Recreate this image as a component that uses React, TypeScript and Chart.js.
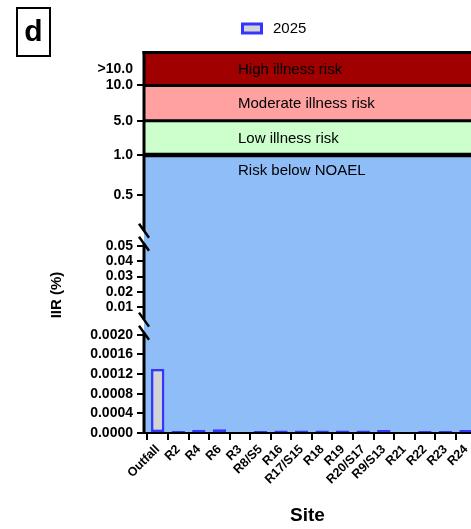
import { useEffect, useRef } from 'react';
import { Chart, registerables, LinearScale } from 'chart.js';

Chart.register(...registerables);

// Sampling sites along the x axis
const sites = ['Outfall', 'R2', 'R4', 'R6', 'R3', 'R8/S5', 'R16', 'R17/S15', 'R18', 'R19', 'R20/S17', 'R9/S13', 'R21', 'R22', 'R23', 'R24'];
// Illness infection risk (%) per site, 2025
const iir2025 = [0.0013, 0.00004, 0.00006, 0.000075, 0, 0.00004, 0.00005, 0.00005, 0.00005, 0.00005, 0.00005, 0.00006, 0, 0.00004, 0.00004, 0.00006];

const seriesLabel = '2025';

// y tick values and their labels (">10.0" sits in the middle of the top band)
const yTickValues = [0, 0.0004, 0.0008, 0.0012, 0.0016, 0.002, 0.01, 0.02, 0.03, 0.04, 0.05, 0.5, 1, 5, 10, 15];
const yTickLabels = ['0.0000', '0.0004', '0.0008', '0.0012', '0.0016', '0.0020', '0.01', '0.02', '0.03', '0.04', '0.05', '0.5', '1.0', '5.0', '10.0', '>10.0'];

// Risk categories painted behind the bars
const bandLabels = ['Risk below NOAEL', 'Low illness risk', 'Moderate illness risk', 'High illness risk'];
const bandFrom = [0, 1, 5, 10];
const bandTo = [1, 5, 10, 20];
const bandColors = ['#8fbdf7', '#ccffcc', '#ffa1a1', '#a00000'];
const bandLines = [1, 5, 10];

// Broken y axis: each piece maps a value range onto a share of the plot height
const segValueMin = [0, 0.0021, 0.054, 1, 5, 10];
const segValueMax = [0.00204, 0.0513, 1, 5, 10, 20];
const segFracMin = [0, 0.2984, 0.5324, 0.7316, 0.8218, 0.9147];
const segFracMax = [0.2639, 0.4982, 0.7316, 0.8218, 0.9147, 1];

const FONT = '"Liberation Sans", Arial, Helvetica, sans-serif';

function valueToFraction(v: number): number {
  for (let i = 0; i < segValueMax.length; i++) {
    if (v <= segValueMax[i]) {
      if (v < segValueMin[i]) return segFracMin[i];
      const t = (v - segValueMin[i]) / (segValueMax[i] - segValueMin[i]);
      return segFracMin[i] + t * (segFracMax[i] - segFracMin[i]);
    }
  }
  return 1;
}

function fractionToValue(f: number): number {
  for (let i = 0; i < segFracMax.length; i++) {
    if (f <= segFracMax[i]) {
      if (f < segFracMin[i]) return segValueMin[i];
      const t = (f - segFracMin[i]) / (segFracMax[i] - segFracMin[i]);
      return segValueMin[i] + t * (segValueMax[i] - segValueMin[i]);
    }
  }
  return segValueMax[segValueMax.length - 1];
}

class BrokenAxisScale extends LinearScale {
  static id = 'brokenAxis';
  static defaults = LinearScale.defaults;
  getPixelForValue(value: number) {
    if (value === null || value === undefined) return NaN;
    const f = valueToFraction(value);
    return this.bottom - f * (this.bottom - this.top);
  }
  getValueForPixel(pixel: number) {
    const f = (this.bottom - pixel) / (this.bottom - this.top);
    return fractionToValue(f);
  }
}
Chart.register(BrokenAxisScale);

const backgroundPlugin = {
  id: 'riskBands',
  beforeDraw(chart: any) {
    const { ctx, chartArea } = chart;
    const y = chart.scales.y;
    ctx.save();
    for (let i = 0; i < bandLabels.length; i++) {
      const top = i === bandLabels.length - 1 ? chartArea.top : y.getPixelForValue(bandTo[i]);
      const bottom = i === 0 ? chartArea.bottom : y.getPixelForValue(bandFrom[i]);
      ctx.fillStyle = bandColors[i];
      ctx.fillRect(chartArea.left, top, chartArea.right - chartArea.left, bottom - top);
    }
    ctx.fillStyle = '#000';
    ctx.font = `15px ${FONT}`;
    ctx.textAlign = 'left';
    ctx.textBaseline = 'middle';
    const textX = chartArea.left + 94;
    for (let i = 0; i < bandLabels.length; i++) {
      let ty;
      if (i === 0) {
        ty = y.getPixelForValue(bandTo[0]) + 16;
      } else {
        const top = i === bandLabels.length - 1 ? chartArea.top : y.getPixelForValue(bandTo[i]);
        ty = (top + y.getPixelForValue(bandFrom[i])) / 2 + 1;
      }
      ctx.fillText(bandLabels[i], textX, ty);
    }
    ctx.restore();
  },
};

const framePlugin = {
  id: 'brokenFrame',
  afterDatasetsDraw(chart: any) {
    const { ctx, chartArea } = chart;
    const y = chart.scales.y;
    ctx.save();
    ctx.strokeStyle = '#000';
    ctx.lineCap = 'butt';
    // band separators
    bandLines.forEach((v) => {
      const py = y.getPixelForValue(v);
      ctx.lineWidth = v === 1 ? 4.5 : 3;
      ctx.beginPath();
      ctx.moveTo(chartArea.left, py);
      ctx.lineTo(chartArea.right, py);
      ctx.stroke();
    });
    // top frame
    ctx.lineWidth = 3;
    ctx.beginPath();
    ctx.moveTo(chartArea.left - 1.5, chartArea.top - 0.5);
    ctx.lineTo(chartArea.right, chartArea.top - 0.5);
    ctx.stroke();
    // left axis, split at the breaks
    const x = chartArea.left;
    const pieces: number[][] = [];
    let start = 0;
    for (let i = 0; i < segFracMin.length; i++) {
      const next = i + 1;
      if (next === segFracMin.length || segFracMin[next] !== segFracMax[i]) {
        pieces.push([segFracMin[start], segFracMax[i]]);
        start = next;
      }
    }
    const h = chartArea.bottom - chartArea.top;
    pieces.forEach(([f0, f1], idx) => {
      const yb = chartArea.bottom - f0 * h;
      const yt = chartArea.bottom - f1 * h;
      ctx.lineWidth = 3;
      ctx.beginPath();
      ctx.moveTo(x, idx === 0 ? yb + 1 : yb);
      ctx.lineTo(x, idx === pieces.length - 1 ? yt - 2 : yt);
      ctx.stroke();
      ctx.lineWidth = 2.5;
      if (idx > 0) {
        ctx.beginPath();
        ctx.moveTo(x - 5, yb - 7);
        ctx.lineTo(x + 5, yb + 7);
        ctx.stroke();
      }
      if (idx < pieces.length - 1) {
        ctx.beginPath();
        ctx.moveTo(x - 5, yt - 7);
        ctx.lineTo(x + 5, yt + 7);
        ctx.stroke();
      }
    });
    ctx.restore();
  },
  afterDraw(chart: any) {
    const { ctx, chartArea } = chart;
    const ds = chart.data.datasets[0];
    ctx.save();
    // legend
    ctx.fillStyle = ds.backgroundColor;
    ctx.strokeStyle = ds.borderColor;
    ctx.lineWidth = 3;
    ctx.fillRect(242.5, 24, 19, 9);
    ctx.strokeRect(242.5, 24, 19, 9);
    ctx.fillStyle = '#000';
    ctx.font = `15px ${FONT}`;
    ctx.textAlign = 'left';
    ctx.textBaseline = 'middle';
    ctx.fillText(ds.label, 273, 29);
    // panel letter
    ctx.lineWidth = 2;
    ctx.strokeStyle = '#000';
    ctx.strokeRect(17, 8, 33, 48);
    ctx.font = `bold 30px ${FONT}`;
    ctx.textAlign = 'center';
    ctx.fillText('d', 33.5, 33);
    // y axis title
    ctx.translate(57, (chartArea.top + chartArea.bottom) / 2 + 52);
    ctx.rotate(-Math.PI / 2);
    ctx.font = `bold 15px ${FONT}`;
    ctx.textAlign = 'center';
    ctx.fillText('IIR (%)', 0, 0);
    ctx.restore();
  },
};

export default function App() {
  const canvasRef = useRef<HTMLCanvasElement | null>(null);

  useEffect(() => {
    document.body.style.margin = '0';
    const canvas = canvasRef.current;
    if (!canvas) return;
    Chart.defaults.font.family = FONT;
    const chart = new Chart(canvas, {
      type: 'bar',
      data: {
        datasets: [
          {
            label: seriesLabel,
            data: sites.map((_, i) => ({ x: i, y: iir2025[i] })),
            backgroundColor: '#d4d4d4',
            borderColor: '#3535ff',
            borderWidth: 2.5,
            borderSkipped: false,
            barPercentage: 0.65,
            categoryPercentage: 1,
          },
        ],
      },
      options: {
        animation: false,
        responsive: false,
        maintainAspectRatio: false,
        layout: { padding: { top: 53, left: 50, right: 0, bottom: 2 } },
        plugins: {
          legend: { display: false },
          tooltip: { enabled: false },
        },
        scales: {
          x: {
            type: 'linear',
            min: -0.667,
            max: 15.243,
            offset: false,
            afterBuildTicks: (s: any) => {
              s.ticks = sites.map((_, i) => ({ value: i }));
            },
            afterFit: (s: any) => {
              s.height = 94;
              s.paddingRight = 0;
              s.paddingLeft = 0;
            },
            ticks: {
              autoSkip: false,
              maxRotation: 45,
              minRotation: 45,
              padding: 2,
              color: '#000',
              font: { family: FONT, size: 12.5, weight: 'bold' },
              callback: (v: any) => sites[Math.round(Number(v))],
            },
            grid: { drawOnChartArea: false, drawTicks: true, tickLength: 7, lineWidth: 2, color: '#000' },
            border: { display: true, width: 2, color: '#000' },
            title: {
              display: true,
              text: 'Site',
              color: '#000',
              font: { family: FONT, size: 19, weight: 'bold' },
              padding: 0,
            },
          },
          y: {
            type: 'brokenAxis' as any,
            min: 0,
            max: 20,
            afterBuildTicks: (s: any) => {
              s.ticks = yTickValues.map((v) => ({ value: v }));
            },
            afterFit: (s: any) => {
              s.width = 94;
              s.paddingTop = 0;
              s.paddingBottom = 0;
            },
            ticks: {
              autoSkip: false,
              padding: 4,
              color: '#000',
              font: { family: FONT, size: 14, weight: 'bold' },
              callback: (v: any) => yTickLabels[yTickValues.indexOf(Number(v))],
            },
            grid: {
              drawOnChartArea: false,
              drawTicks: true,
              tickLength: 7,
              lineWidth: 2,
              color: (c: any) => (c.tick && c.tick.value === 15 ? 'rgba(0,0,0,0)' : '#000'),
            },
            border: { display: false },
          },
        },
      },
      plugins: [backgroundPlugin, framePlugin],
    } as any);
    return () => chart.destroy();
  }, []);

  return (
    <div style={{ width: 471, height: 529, overflow: 'hidden' }}>
      <canvas ref={canvasRef} width={471} height={529} style={{ display: 'block' }} />
    </div>
  );
}
